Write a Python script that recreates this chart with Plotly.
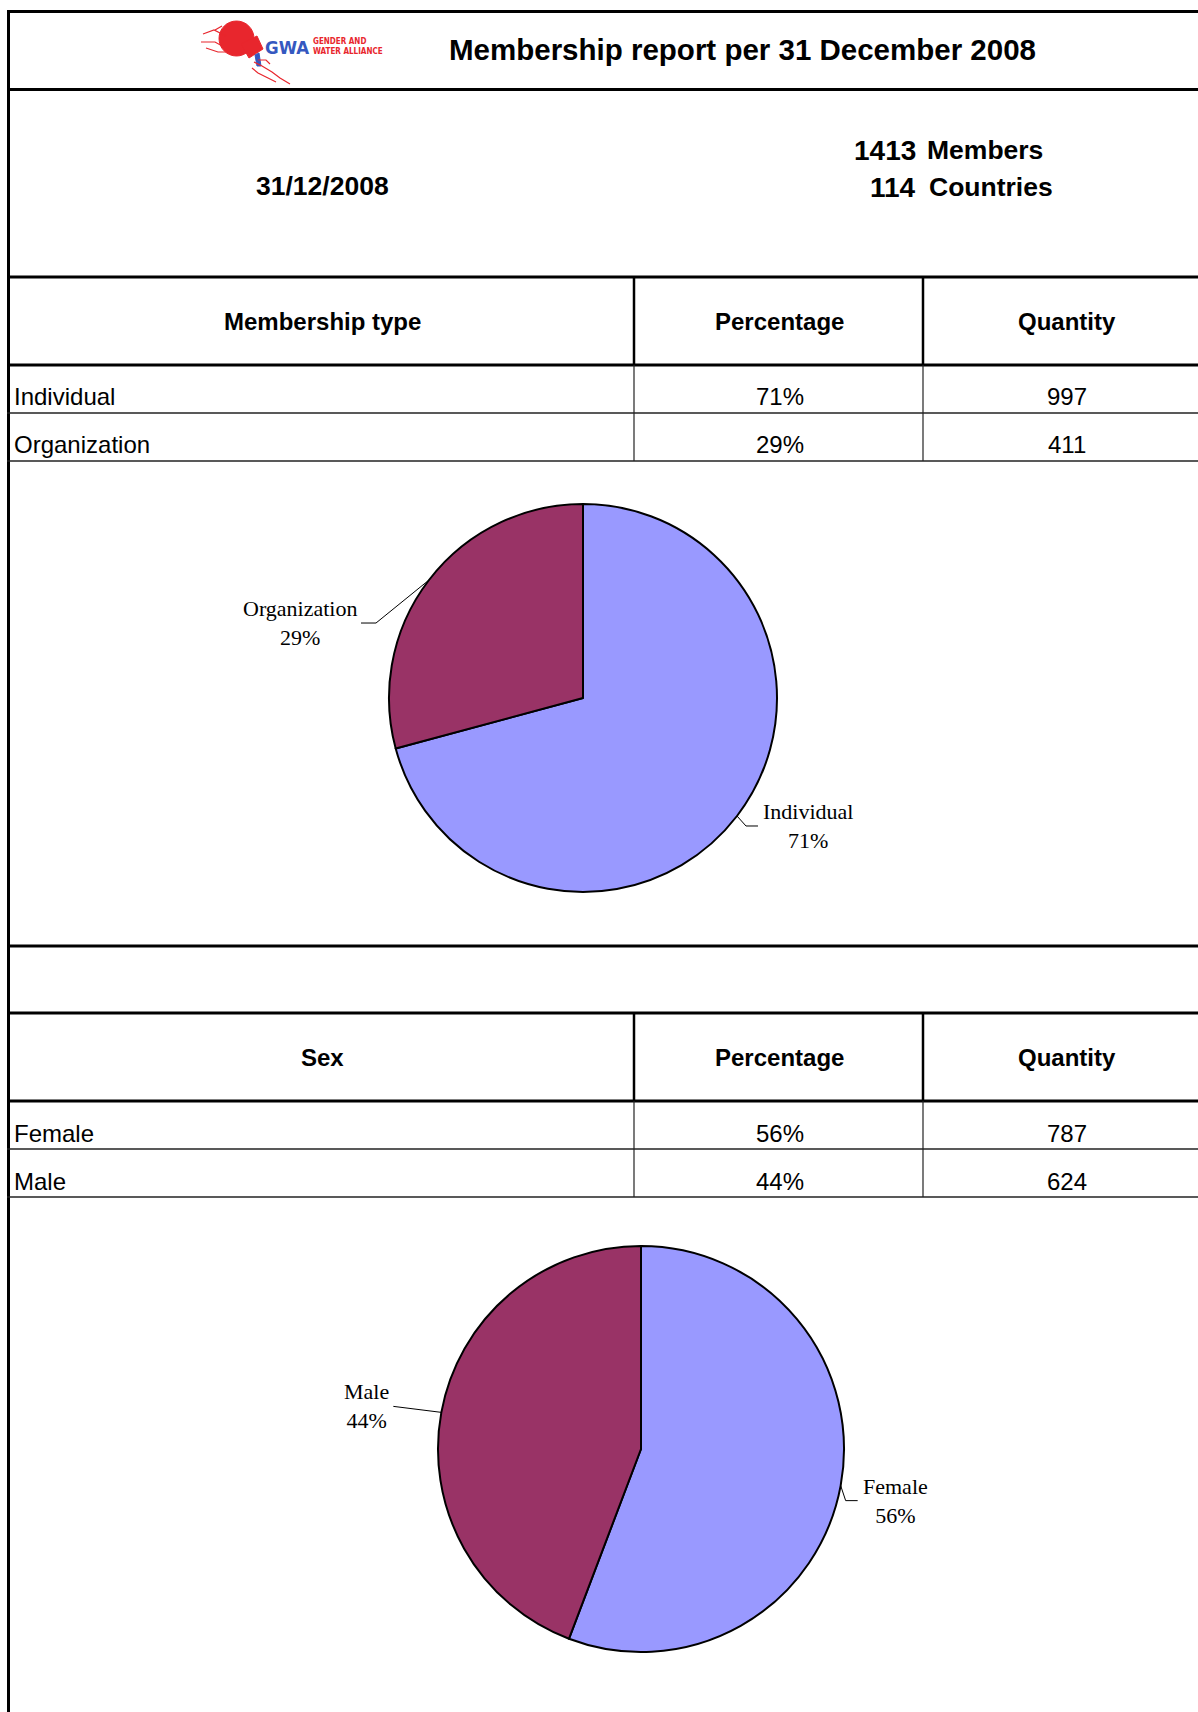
import math
import plotly.graph_objects as go

# ---------------- data ----------------
report_title = "Membership report per 31 December 2008"
report_date = "31/12/2008"
total_members = 1413
total_countries = 114

col_headers = ["Percentage", "Quantity"]

membership_header = "Membership type"
membership_types = ["Individual", "Organization"]
membership_qty = [997, 411]

sex_header = "Sex"
sex_types = ["Female", "Male"]
sex_qty = [787, 624]

slice_colors = ["#9999FF", "#993366"]

# ---------------- page geometry (style) ----------------
W, H = 1198, 1712


def px(x):
    return x / W


def py(y):
    return 1 - y / H


SANS = "Liberation Sans, Arial, sans-serif"
SERIF = "Liberation Serif, Times New Roman, serif"
NARROW = "Liberation Sans Narrow, DejaVu Sans Condensed, Arial Narrow, Liberation Sans, sans-serif"

shapes = []
annotations = []


def hline(y, x0, x1, w, color="black"):
    shapes.append(dict(type="line", xref="paper", yref="paper",
                       x0=px(x0), x1=px(x1), y0=py(y), y1=py(y),
                       line=dict(color=color, width=w)))


def vline(x, y0, y1, w, color="black"):
    shapes.append(dict(type="line", xref="paper", yref="paper",
                       x0=px(x), x1=px(x), y0=py(y0), y1=py(y1),
                       line=dict(color=color, width=w)))


def text(x, y, s, size, family=SANS, bold=False, xanchor="center",
         yanchor="middle", color="black", align="center"):
    if bold:
        s = "<b>" + s + "</b>"
    annotations.append(dict(xref="paper", yref="paper", x=px(x), y=py(y),
                            text=s, showarrow=False, xanchor=xanchor,
                            yanchor=yanchor, align=align,
                            font=dict(family=family, size=size, color=color)))


def path(points, close=False):
    d = "M " + " L ".join(f"{px(x):.6f},{py(y):.6f}" for x, y in points)
    if close:
        d += " Z"
    return d


RIGHT = 1210
# outer frame
hline(11.5, 7, RIGHT, 3)
vline(8.5, 10, 1720, 3)
hline(89.5, 7, RIGHT, 3)

# ---------------- header ----------------
text(742, 50, report_title, 29.5, bold=True)
text(322, 186, report_date, 26.5, bold=True)
text(918, 150, str(total_members), 28, bold=True, xanchor="right")
text(925, 150, "Members", 26.5, bold=True, xanchor="left")
text(918, 187, str(total_countries), 28, bold=True, xanchor="right")
text(927, 187, "Countries", 26.5, bold=True, xanchor="left")

# ---------------- logo (drawn) ----------------
RED = "#E8262D"
BLUE = "#3558C0"
shapes.append(dict(type="circle", xref="paper", yref="paper",
                   x0=px(219), x1=px(254), y0=py(56), y1=py(21),
                   fillcolor=RED, line=dict(color=RED, width=1)))
shapes.append(dict(type="path", xref="paper", yref="paper",
                   path=path([(241, 44), (257, 36), (263, 49), (249, 58)], close=True),
                   fillcolor=RED, line=dict(color=RED, width=1)))
shapes.append(dict(type="path", xref="paper", yref="paper",
                   path=path([(255, 55), (259, 53), (261, 66), (257, 66)], close=True),
                   fillcolor=BLUE, line=dict(color=BLUE, width=1)))
for seg in [[(203, 34), (214, 30), (226, 36)],
            [(201, 42), (215, 42), (224, 47)],
            [(206, 48), (218, 52), (230, 52)],
            [(215, 30), (222, 26)],
            [(254, 62), (262, 66), (272, 72), (280, 78), (290, 84)],
            [(252, 68), (258, 73), (266, 77), (276, 82)],
            [(258, 60), (266, 60), (270, 64)]]:
    shapes.append(dict(type="path", xref="paper", yref="paper", path=path(seg),
                       line=dict(color=RED, width=1.2)))
text(287, 47, "GWA", 18.5, family=NARROW, bold=True, color=BLUE)
text(311, 41.5, "GENDER AND", 8, family=NARROW, bold=True, color=RED, xanchor="left")
text(311, 51.5, "WATER ALLIANCE", 8, family=NARROW, bold=True, color=RED, xanchor="left")

# ---------------- tables ----------------
COL1, COL2 = 634, 923
COL_CENTERS = [322, 780, 1067]


def draw_table(top, header, cats, qtys):
    total = sum(qtys)
    pcts = [f"{round(100 * q / total)}%" for q in qtys]
    hdr_bot = top + 88
    hline(top, 7, RIGHT, 3)
    hline(hdr_bot, 7, RIGHT, 3)
    vline(COL1, top, hdr_bot, 2.5)
    vline(COL2, top, hdr_bot, 2.5)
    text(COL_CENTERS[0], (top + hdr_bot) / 2, header, 24, bold=True)
    text(COL_CENTERS[1], (top + hdr_bot) / 2, col_headers[0], 24, bold=True)
    text(COL_CENTERS[2], (top + hdr_bot) / 2, col_headers[1], 24, bold=True)
    row_top = hdr_bot
    for c, p, q in zip(cats, pcts, qtys):
        row_bot = row_top + 48
        hline(row_bot, 7, RIGHT, 1.3, "#222")
        vline(COL1, row_top, row_bot, 1.2, "#222")
        vline(COL2, row_top, row_bot, 1.2, "#222")
        text(12, row_top + 32, c, 24, xanchor="left")
        text(COL_CENTERS[1], row_top + 32, p, 24)
        text(COL_CENTERS[2], row_top + 32, str(q), 24)
        row_top = row_bot


draw_table(277, membership_header, membership_types, membership_qty)
hline(946, 7, RIGHT, 3)
draw_table(1013, sex_header, sex_types, sex_qty)

# ---------------- pies ----------------
fig = go.Figure()

# label leader offsets relative to slice-edge point: (elbow dx, dy, end dx)
pie_specs = [
    dict(labels=membership_types, values=membership_qty, cx=583, cy=698, r=194,
         leaders=[(9, 10, 21), (-53, 43, -68)]),
    dict(labels=sex_types, values=sex_qty, cx=641, cy=1449, r=203,
         leaders=[(5, 15, 17), (-48, -6, -48)]),
]

for spec in pie_specs:
    cx, cy, r = spec["cx"], spec["cy"], spec["r"]
    fig.add_trace(go.Pie(
        labels=spec["labels"], values=spec["values"], sort=False,
        direction="clockwise", rotation=0, textinfo="none",
        marker=dict(colors=slice_colors, line=dict(color="black", width=2)),
        domain=dict(x=[px(cx - r), px(cx + r)], y=[py(cy + r), py(cy - r)]),
        showlegend=False, hoverinfo="label+percent+value"))
    total = sum(spec["values"])
    cum = 0
    for lab, v, (edx, edy, endx) in zip(spec["labels"], spec["values"], spec["leaders"]):
        frac = v / total
        theta = 2 * math.pi * (cum + frac / 2)
        cum += frac
        ex = cx + r * math.sin(theta)
        ey = cy - r * math.cos(theta)
        pts = [(ex, ey), (ex + edx, ey + edy), (ex + endx, ey + edy)]
        shapes.append(dict(type="path", xref="paper", yref="paper", path=path(pts),
                           line=dict(color="black", width=1)))
        pct = f"{round(100 * frac)}%"
        lx = ex + endx + (3 if endx > 0 else -2)
        text(lx, ey + edy, f"{lab}<br>{pct}", 22, family=SERIF,
             xanchor="left" if endx > 0 else "right")

fig.update_layout(
    width=W, height=H, margin=dict(l=0, r=0, t=0, b=0),
    paper_bgcolor="white", plot_bgcolor="white",
    shapes=shapes, annotations=annotations,
)

fig.write_html(
    "out.html",
    config={"displayModeBar": False},
    post_script="document.body.style.margin='0';document.body.style.overflow='hidden';",
)
